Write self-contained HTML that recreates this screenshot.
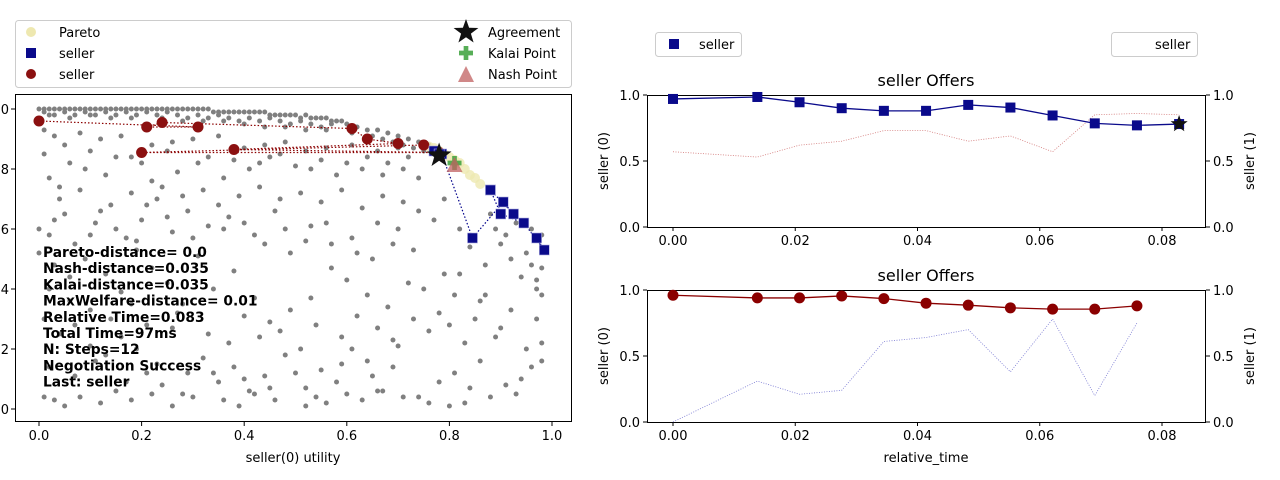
<!DOCTYPE html>
<html><head><meta charset="utf-8">
<style>
html,body{margin:0;padding:0;background:#fff;}
svg{display:block;font-family:"DejaVu Sans","Liberation Sans",sans-serif;}
</style></head>
<body>
<svg id="chart" width="1280" height="480" viewBox="0 0 1280 480" xmlns="http://www.w3.org/2000/svg">
<g id="L"></g><g id="T"></g><g id="B"></g>
</svg>
<script>
// ---------- data ----------
const offerTimes = [0,0.0138,0.0207,0.0276,0.0345,0.0414,0.0483,0.0552,0.0621,0.0690,0.0759,0.0828];
const blueU0 = [0.97,0.985,0.945,0.90,0.88,0.88,0.925,0.905,0.845,0.785,0.77,0.78];
const blueU1 = [0.57,0.53,0.62,0.65,0.73,0.73,0.65,0.69,0.57,0.85,0.86,0.85];
const redTimes = [0,0.0138,0.0207,0.0276,0.0345,0.0414,0.0483,0.0552,0.0621,0.0690,0.0759];
const redU1 = [0.96,0.94,0.94,0.955,0.935,0.90,0.885,0.865,0.855,0.855,0.88];
const redU0 = [0,0.31,0.21,0.24,0.61,0.64,0.70,0.38,0.78,0.20,0.75];
const paretoU0 = [0.75,0.76,0.77,0.78,0.79,0.80,0.81,0.82,0.83,0.84,0.85,0.86];
const paretoU1 = [0.88,0.875,0.87,0.86,0.85,0.84,0.83,0.82,0.80,0.78,0.77,0.75];
const agreement = [0.78,0.845];
const kalai = [0.81,0.82];
const nash = [0.81,0.81];
const xTicks = [0,0.2,0.4,0.6,0.8,1.0];
const xTickLabels = ["0.0","0.2","0.4","0.6","0.8","1.0"];
const yTicks = [0,0.2,0.4,0.6,0.8,1.0];
const yTickLabels = ["0.0","0.2","0.4","0.6","0.8","1.0"];
const tTicks = [0,0.02,0.04,0.06,0.08];
const tTickLabels = ["0.00","0.02","0.04","0.06","0.08"];
const uTicks = [0,0.5,1.0];
const uTickLabels = ["0.0","0.5","1.0"];
// outcome space (hundredths): x,y pairs
const outcomeXY = [0,100,1,100,2,100,3,100,4,100,5,100,6,100,7,100,8,100,9,100,10,100,11,100,12,100,13,100,14,100,15,100,16,100,17,100,18,100,19,100,20,100,21,100,22,100,23,100,24,100,25,100,26,100,27,100,28,100,29,100,30,100,31,100,32,100,33,100,34,99,35,99,36,99,37,99,38,99,39,99,40,99,41,99,42,99,43,99,44,99,45,98,46,98,47,98,48,98,49,98,50,98,51,97,52,98,53,97,54,97,55,97,56,97,57,96,58,96,59,96,
1,99,3,98,5,99,7,98,9,99,11,98,13,99,15,98,17,99,19,98,21,99,23,98,25,99,27,98,29,97,31,98,33,97,35,98,37,97,39,96,41,97,43,96,45,97,47,96,49,95,51,96,53,95,55,94,57,95,60,95,62,94,64,93,66,93,68,92,70,91,72,90,74,89,76,88,2,98,6,97,10,98,14,97,18,97,24,97,28,96,32,96,36,96,40,95,44,94,48,94,52,93,56,93,61,92,65,91,67,90,69,89,71,88,73,87,75,86,77,85,
1,93,3,91,8,92,12,90,16,91,22,88,26,89,30,90,35,91,40,87,44,88,48,89,52,86,56,87,61,88,66,86,70,87,1,85,2,77,4,74,6,82,9,80,13,78,18,84,22,76,27,79,31,82,36,77,41,80,45,84,50,81,55,83,58,78,63,80,67,78,71,80,74,77,5,88,10,86,15,84,20,82,25,86,33,84,38,83,43,82,47,85,53,80,60,82,64,84,68,82,72,84,
0,60,2,58,5,65,7,55,11,62,14,68,17,57,20,63,23,70,26,59,29,66,33,61,37,64,42,58,46,66,49,52,53,61,57,55,61,57,66,62,70,60,74,66,77,63,79,70,0,52,3,48,6,44,9,50,13,45,16,39,19,53,22,47,25,42,28,35,31,51,34,40,38,46,42,37,45,29,49,33,53,37,57,47,60,43,64,38,68,34,72,42,75,40,78,32,82,45,86,36,
4,70,8,73,12,66,18,72,21,68,24,74,28,71,32,73,35,68,39,71,43,74,47,70,51,72,55,69,59,73,63,67,67,71,71,69,3,63,10,58,15,60,19,56,25,64,30,57,36,60,40,62,44,55,48,60,52,56,56,62,62,52,65,50,69,55,73,53,
1,30,4,25,7,28,10,21,13,18,16,24,19,20,23,15,26,27,29,12,32,17,35,9,38,14,41,6,44,11,48,18,52,7,55,13,58,9,61,20,64,16,67,6,70,21,74,4,78,9,80,28,83,2,86,16,1,4,3,3,5,1,8,4,12,2,15,6,18,3,22,5,26,1,30,4,36,3,39,1,42,5,46,3,52,1,56,2,60,5,63,3,66,6,71,4,76,2,80,1,84,7,88,4,
2,40,6,36,10,33,14,30,18,35,21,28,27,32,33,25,37,22,40,31,43,24,47,26,51,20,54,28,59,24,62,31,66,27,69,23,73,30,76,26,2,14,7,11,11,16,17,9,21,12,24,8,28,5,34,12,40,10,45,7,50,12,54,4,59,15,65,11,69,14,
88,65,89,60,90,55,91,58,92,50,93,62,94,44,95,52,96,48,97,40,98,47,98,38,97,30,98,22,98,16,95,20,94,10,92,33,90,27,93,5,96,14,97,43,98,58,96,60,87,38,89,24,91,8,84,54,82,60,83,22,81,12,85,30,87,48,79,45,81,38];

// ---------- helpers ----------
const NS="http://www.w3.org/2000/svg";
function mk(parent,tag,attrs,text){const e=document.createElementNS(NS,tag);for(const k in attrs)e.setAttribute(k,attrs[k]);if(text!==undefined)e.textContent=text;parent.appendChild(e);return e;}

// ---------- left plot ----------
const L=document.getElementById('L');
const lx=v=>39+513*v, ly=v=>409-300*v;
for(let i=0;i<outcomeXY.length;i+=2){
  const c=mk(L,'circle',{cx:lx(outcomeXY[i]/100),cy:ly(outcomeXY[i+1]/100),r:2.5,fill:'#808080'});
  
  
}
for(let i=0;i<paretoU0.length;i++){
  const c=mk(L,'circle',{cx:lx(paretoU0[i]),cy:ly(paretoU1[i]),r:5,fill:'#eee8b0',opacity:0.8});
  
  
}
let rp=redU0.map((v,i)=>lx(v)+','+ly(redU1[i])).join(' ');
let rl=mk(L,'polyline',{points:rp,fill:'none',stroke:'#8b0000','stroke-width':1.2,'stroke-dasharray':'1.5,2'});


let bp=blueU0.map((v,i)=>lx(v)+','+ly(blueU1[i])).join(' ');
let bl=mk(L,'polyline',{points:bp,fill:'none',stroke:'#00008b','stroke-width':1.2,'stroke-dasharray':'1.5,2'});


for(let i=0;i<redU0.length;i++){
  const c=mk(L,'circle',{cx:lx(redU0[i]),cy:ly(redU1[i]),r:5.5,fill:'#8b1010'});
  
  
}
for(let i=0;i<blueU0.length;i++){
  const r=mk(L,'rect',{x:lx(blueU0[i])-5,y:ly(blueU1[i])-5,width:10,height:10,fill:'#0a0a8b',stroke:'#b0b0e0','stroke-width':0.6});
  
  
}
function star(cx,cy,R){let p=[];for(let i=0;i<10;i++){const a=-Math.PI/2+i*Math.PI/5,rr=i%2?R*0.4:R;p.push((cx+rr*Math.cos(a)).toFixed(1)+','+(cy+rr*Math.sin(a)).toFixed(1));}return p.join(' ');}
function plus(cx,cy,s){const a=s/3;return [[-a,-s],[a,-s],[a,-a],[s,-a],[s,a],[a,a],[a,s],[-a,s],[-a,a],[-s,a],[-s,-a],[-a,-a]].map(q=>(cx+q[0])+','+(cy+q[1])).join(' ');}
let kp=mk(L,'polygon',{points:plus(lx(kalai[0]),ly(kalai[1]),7),fill:'#3aa03a',opacity:0.85});

let np=mk(L,'polygon',{points:`${lx(nash[0])},${ly(nash[1])-9} ${lx(nash[0])+8},${ly(nash[1])+6} ${lx(nash[0])-8},${ly(nash[1])+6}`,fill:'#c06060',opacity:0.75});

let ap=mk(L,'polygon',{points:star(lx(agreement[0]),ly(agreement[1]),13),fill:'#111'});

let lf=mk(L,'rect',{x:15.5,y:94.5,width:556,height:327,fill:'none',stroke:'#000','stroke-width':1});

xTicks.forEach((v,i)=>{mk(L,'line',{x1:lx(v),x2:lx(v),y1:422,y2:426,stroke:'#000'});
  const t=mk(L,'text',{x:lx(v),y:440,'font-size':13,'text-anchor':'middle'},xTickLabels[i]);
  });
yTicks.forEach((v,i)=>{mk(L,'line',{x1:11,x2:15,y1:ly(v),y2:ly(v),stroke:'#000'});
  const t=mk(L,'text',{x:9,y:ly(v)+5,'font-size':13,'text-anchor':'end'},yTickLabels[i]);
  });
let xt=mk(L,'text',{x:293,y:462,'font-size':13,'text-anchor':'middle'},'seller(0) utility');

const info=['Pareto-distance=  0.0','Nash-distance=0.035','Kalai-distance=0.035','MaxWelfare-distance= 0.01','Relative Time=0.083','Total Time=97ms','N: Steps=12','Negotiation Success','Last: seller'];
info.forEach((s,i)=>{const t=mk(L,'text',{x:43,y:257+i*16.2,'font-size':13.8,'font-weight':'bold'},s);
  });
// legend
let lg=mk(L,'rect',{x:15.5,y:20.5,width:556,height:67,rx:3,fill:'#fff',stroke:'#ccc'});

mk(L,'circle',{cx:31,cy:32,r:5,fill:'#eee8b0'});
mk(L,'rect',{x:26,y:48,width:10,height:10,fill:'#0a0a8b'});
mk(L,'circle',{cx:31,cy:74,r:5,fill:'#8b1010'});
[['Pareto',37],['seller',58],['seller',79]].forEach(a=>{const t=mk(L,'text',{x:59,y:a[1],'font-size':13},a[0]);});
mk(L,'polygon',{points:star(466,32,13),fill:'#111'});
mk(L,'polygon',{points:plus(466,53,7),fill:'#3aa03a',opacity:0.85});
mk(L,'polygon',{points:'466,66 474,82 458,82',fill:'#c06060',opacity:0.75});
[['Agreement',37],['Kalai Point',58],['Nash Point',79]].forEach(a=>{const t=mk(L,'text',{x:488,y:a[1],'font-size':13},a[0]);});

// ---------- right plots ----------
const tx=v=>673+489*v/0.08;
function panel(g,top,name){
  const uy=v=>top+132-132*v;
  const f=mk(g,'rect',{x:647.5,y:top+0.5,width:558,height:132,fill:'none',stroke:'#000'});
  
  tTicks.forEach((v,i)=>{mk(g,'line',{x1:tx(v),x2:tx(v),y1:top+132,y2:top+136,stroke:'#000'});
    const t=mk(g,'text',{x:tx(v),y:top+150,'font-size':13,'text-anchor':'middle'},tTickLabels[i]);
    });
  uTicks.forEach((v,i)=>{mk(g,'line',{x1:643,x2:647,y1:uy(v),y2:uy(v),stroke:'#000'});
    mk(g,'line',{x1:1206,x2:1210,y1:uy(v),y2:uy(v),stroke:'#000'});
    const t=mk(g,'text',{x:640,y:uy(v)+5,'font-size':13,'text-anchor':'end'},uTickLabels[i]);
    
    const t2=mk(g,'text',{x:1213,y:uy(v)+5,'font-size':13},uTickLabels[i]);
    });
  const ti=mk(g,'text',{x:926,y:top-9,'font-size':16,'text-anchor':'middle'},'seller Offers');
  
  const yl=mk(g,'text',{x:0,y:0,'font-size':13,'text-anchor':'middle',transform:`translate(608,${top+66}) rotate(-90)`},'seller (0)');
  
  const yr=mk(g,'text',{x:0,y:0,'font-size':13,'text-anchor':'middle',transform:`translate(1254,${top+66}) rotate(-90)`},'seller (1)');
  
  return uy;
}
const T=document.getElementById('T');
const uyT=panel(T,95,'top-panel');
let tl2=mk(T,'polyline',{points:offerTimes.map((t,i)=>tx(t)+','+uyT(blueU1[i])).join(' '),fill:'none',stroke:'#c04040','stroke-width':0.8,'stroke-dasharray':'1,1.5',opacity:0.7});

let tl=mk(T,'polyline',{points:offerTimes.map((t,i)=>tx(t)+','+uyT(blueU0[i])).join(' '),fill:'none',stroke:'#0a0a8b','stroke-width':1.3});

offerTimes.forEach((t,i)=>{const r=mk(T,'rect',{x:tx(t)-5,y:uyT(blueU0[i])-5,width:10,height:10,fill:'#0a0a8b'});
  });
let ts=mk(T,'polygon',{points:star(tx(offerTimes[11]),uyT(blueU0[11]),9),fill:'#111'});

let tlg=mk(T,'rect',{x:655.5,y:32.5,width:86,height:24,rx:3,fill:'#fff',stroke:'#ccc'});

mk(T,'rect',{x:669,y:39,width:10,height:10,fill:'#0a0a8b'});
mk(T,'text',{x:699,y:49,'font-size':13},'seller');
let tlg2=mk(T,'rect',{x:1111.5,y:32.5,width:86,height:24,rx:3,fill:'#fff',stroke:'#ccc'});

mk(T,'text',{x:1155,y:49,'font-size':13},'seller');

const B=document.getElementById('B');
const uyB=panel(B,290,'bottom-panel');
let bl2=mk(B,'polyline',{points:redTimes.map((t,i)=>tx(t)+','+uyB(redU0[i])).join(' '),fill:'none',stroke:'#4040c0','stroke-width':0.8,'stroke-dasharray':'1,1.5',opacity:0.7});

let bl3=mk(B,'polyline',{points:redTimes.map((t,i)=>tx(t)+','+uyB(redU1[i])).join(' '),fill:'none',stroke:'#8b0000','stroke-width':1.3});

redTimes.forEach((t,i)=>{const c=mk(B,'circle',{cx:tx(t),cy:uyB(redU1[i]),r:5.5,fill:'#8b0000'});
  });
let bx=mk(B,'text',{x:926,y:462,'font-size':13,'text-anchor':'middle'},'relative_time');

</script>
</body></html>
